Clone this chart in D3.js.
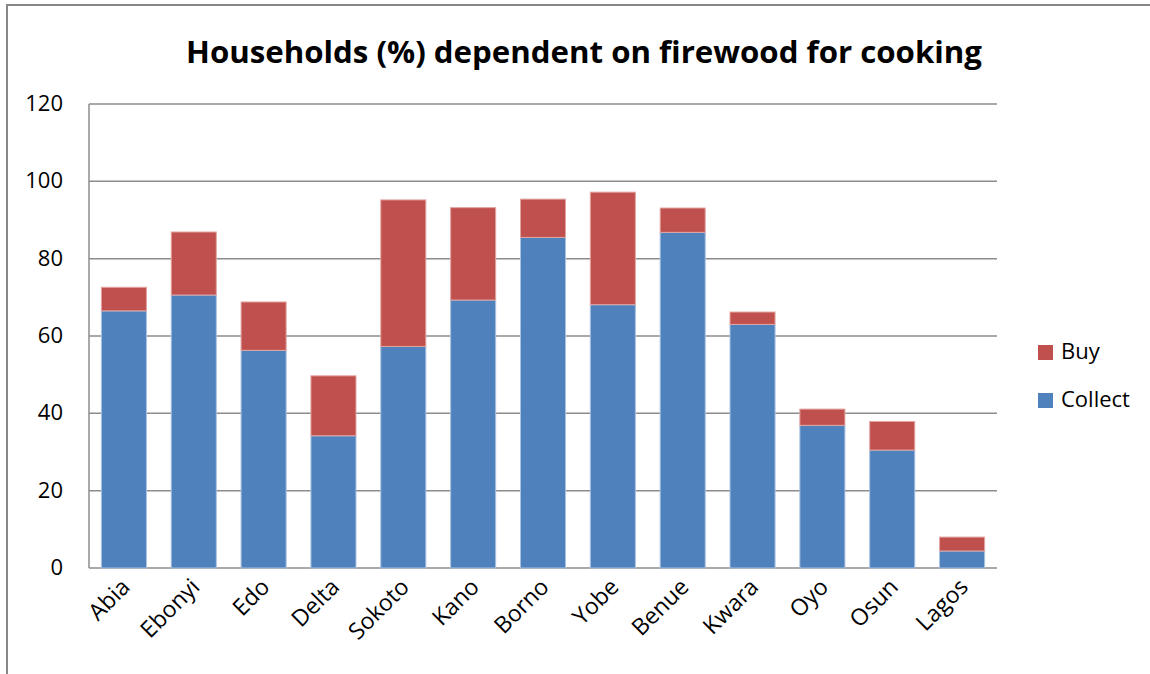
<!DOCTYPE html>
<html>
<head>
<meta charset="utf-8">
<script src="https://cdn.jsdelivr.net/npm/d3@7"></script>
<style>
  body { margin: 0; background: #fff; }
  svg text { font-family: "Open Sans", "DejaVu Sans", sans-serif; fill: #000; }
</style>
</head>
<body>
<div id="chart"></div>
<script>
// chart data
var states = ["Abia","Ebonyi","Edo","Delta","Sokoto","Kano","Borno","Yobe","Benue","Kwara","Oyo","Osun","Lagos"];
var collect = [66.5, 70.6, 56.3, 34.2, 57.3, 69.3, 85.5, 68.1, 86.8, 63.0, 36.9, 30.5, 4.4];
var buy = [6.1, 16.3, 12.5, 15.5, 37.9, 23.9, 9.9, 29.1, 6.3, 3.2, 4.2, 7.4, 3.6];
var yTicks = [0, 20, 40, 60, 80, 100, 120];
var seriesNames = ["Collect", "Buy"];
var colors = {Collect: "#4F81BD", Buy: "#C0504D"};

var W = 1150, H = 674;
var margin = {left: 89, right: 153, top: 104, bottom: 106};

var svg = d3.select("#chart").append("svg")
    .attr("width", W).attr("height", H);

// outer frame
svg.append("rect")
    .attr("x", 7).attr("y", 5)
    .attr("width", W + 20).attr("height", H + 20)
    .attr("fill", "none").attr("stroke", "#878787").attr("stroke-width", 2);

var x = d3.scaleBand()
    .domain(states)
    .range([margin.left, W - margin.right])
    .paddingInner(0.355).paddingOuter(0.1775);

var y = d3.scaleLinear()
    .domain([0, 120])
    .range([H - margin.bottom, margin.top]);

// gridlines
svg.append("g").selectAll("line")
    .data(yTicks)
    .enter().append("line")
      .attr("x1", margin.left).attr("x2", W - margin.right)
      .attr("y1", function(d){ return y(d); })
      .attr("y2", function(d){ return y(d); })
      .attr("stroke", "#8c8c8c").attr("stroke-width", 1.5);

// left axis line
svg.append("line")
    .attr("x1", margin.left).attr("x2", margin.left)
    .attr("y1", y(120)).attr("y2", y(0))
    .attr("stroke", "#8c8c8c").attr("stroke-width", 1.5);

// stacked bars
var rows = states.map(function(s, i){ return {state: s, Collect: collect[i], Buy: buy[i]}; });
var stack = d3.stack().keys(seriesNames)(rows);

svg.append("g").selectAll("g")
    .data(stack)
    .enter().append("g")
      .attr("fill", function(d){ return colors[d.key]; })
      .attr("stroke", function(d){ return d.key == "Buy" ? "#e3a5a3" : "#a9c1e0"; })
      .attr("stroke-width", 1)
    .selectAll("rect")
    .data(function(d){ return d; })
    .enter().append("rect")
      .attr("x", function(d){ return x(d.data.state); })
      .attr("width", x.bandwidth())
      .attr("y", function(d){ return y(d[1]); })
      .attr("height", function(d){ return y(d[0]) - y(d[1]); });

// y tick labels
svg.append("g").selectAll("text")
    .data(yTicks)
    .enter().append("text")
      .attr("x", 63)
      .attr("y", function(d){ return y(d) + 1; })
      .attr("dominant-baseline", "middle")
      .attr("text-anchor", "end")
      .attr("font-size", 22)
      .text(function(d){ return d; });

// x labels rotated
svg.append("g").selectAll("text")
    .data(states)
    .enter().append("text")
      .attr("transform", function(d){
        return "translate(" + (x(d) + x.bandwidth()/2 + 3) + "," + (y(0) + 16) + ") rotate(-45)";
      })
      .attr("text-anchor", "end")
      .attr("dominant-baseline", "middle")
      .attr("font-size", 23)
      .text(function(d){ return d; });

// title
svg.append("text")
    .attr("x", 584).attr("y", 63)
    .attr("text-anchor", "middle")
    .attr("font-size", 31)
    .attr("font-weight", "bold")
    .attr("textLength", 796)
    .attr("lengthAdjust", "spacingAndGlyphs")
    .text("Households (%) dependent on firewood for cooking");

// legend
var legendItems = ["Buy", "Collect"];
var legend = svg.append("g").selectAll("g")
    .data(legendItems)
    .enter().append("g")
      .attr("transform", function(d, i){ return "translate(1038," + (352 + 48*i) + ")"; });
legend.append("rect")
    .attr("x", 0).attr("y", -7)
    .attr("width", 15).attr("height", 15)
    .attr("fill", function(d){ return colors[d]; });
legend.append("text")
    .attr("x", 23).attr("y", 1)
    .attr("dominant-baseline", "middle")
    .attr("font-size", 22)
    .text(function(d){ return d; });
</script>
</body>
</html>
